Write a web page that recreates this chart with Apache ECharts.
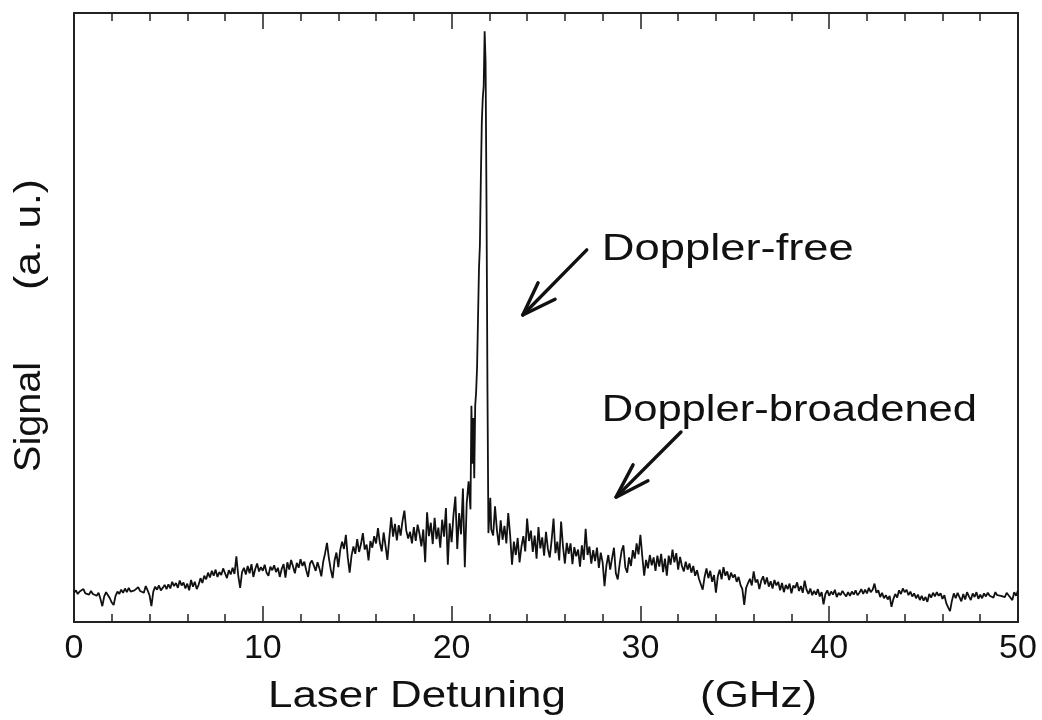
<!DOCTYPE html>
<html>
<head>
<meta charset="utf-8">
<script src="https://cdn.jsdelivr.net/npm/echarts@6/dist/echarts.min.js"></script>
<style>
  html, body { margin: 0; padding: 0; background: #fff; }
  #chart { width: 1042px; height: 720px; }
</style>
</head>
<body>
<div id="chart"></div>
<script>
// Laser detuning scan (GHz) vs. signal (arbitrary units)
const xTicks = [0, 10, 20, 30, 40, 50];

// Broad wing below the resonance: 0.0 .. 20.9 GHz sampled every 0.1 GHz
const leftStart = 0.0;
const leftStep = 0.1;
const signalLeft = [
  4.8,5.2,4.6,5.0,4.9,5.4,4.7,5.0,4.5,5.1,
  4.6,4.9,4.3,4.8,3.8,2.6,4.2,4.9,4.4,3.9,
  3.2,2.8,4.3,5.0,4.6,5.3,4.8,5.5,4.9,5.6,
  5.0,4.7,5.2,4.9,5.7,5.1,5.4,4.8,5.9,5.2,
  4.4,2.6,5.0,5.8,5.3,6.0,5.2,5.6,6.1,5.4,
  6.2,5.5,6.6,5.9,6.4,5.6,6.8,6.0,6.5,5.5,
  6.3,5.2,6.9,5.8,6.6,5.4,6.1,7.2,6.4,7.6,
  7.0,8.1,7.3,8.4,7.6,8.6,7.4,8.2,7.7,8.8,
  8.0,7.2,8.5,7.8,8.9,7.9,10.8,7.6,5.6,8.2,
  8.9,7.8,9.2,8.0,9.5,7.4,8.7,9.6,8.3,9.0,
  8.4,9.4,8.1,7.6,9.1,8.5,9.3,8.2,8.9,7.4,
  8.7,9.5,7.3,9.8,8.6,10.2,9.1,8.0,9.7,8.9,
  10.3,9.2,9.9,8.5,7.4,9.6,10.1,9.3,8.4,9.8,
  8.8,7.5,9.9,11.3,13.0,10.5,8.6,7.2,10.1,11.4,
  9.0,11.8,13.2,12.0,14.3,10.6,8.1,10.9,12.4,11.2,
  13.6,11.5,12.8,14.6,11.9,12.7,10.1,13.3,12.2,14.1,
  12.9,15.4,13.0,11.6,14.7,12.5,10.2,13.8,17.2,14.0,
  16.1,13.4,15.9,14.2,16.6,18.3,15.0,13.7,14.8,12.9,
  15.6,13.3,16.0,14.5,12.4,15.2,9.8,18.0,14.1,16.3,
  12.8,17.1,13.6,15.5,12.2,16.8,14.0,18.7,9.4,16.2,
  13.1,17.6,20.6,12.0,17.9,14.4,21.9,9.0,19.5,23.1
];

// Narrow Doppler-free line, sampled more finely
const peakDetuning = [
  21.0,21.05,21.1,21.15,21.2,21.25,21.3,21.35,21.4,21.45,21.5,21.55,
  21.6,21.65,21.7,21.75,21.8,21.85,21.9,21.95,22.0,22.05,22.1
];
const peakSignal = [
  18.5,35.5,26.0,33.5,23.6,35.5,37.8,41.9,50.0,58.0,62.0,73.0,
  82.0,86.0,88.0,97.0,92.0,68.0,38.0,14.6,17.5,20.4,15.2
];

// Broad wing above the resonance: 22.2 .. 50.0 GHz sampled every 0.1 GHz
const rightStart = 22.2;
const rightStep = 0.1;
const signalRight = [
  14.2,19.0,15.1,12.6,16.7,13.5,15.8,12.9,
  17.9,14.3,9.4,13.2,11.0,13.8,9.8,12.4,14.1,11.6,
  17.0,13.3,15.0,11.5,14.2,10.4,15.6,12.1,13.9,10.9,
  14.8,12.0,10.6,13.5,17.0,11.3,13.2,10.1,16.5,12.4,
  9.6,13.0,11.2,12.9,9.5,12.3,10.8,11.9,9.1,12.6,
  10.2,15.3,11.0,12.4,9.6,11.8,10.0,12.2,8.9,11.4,
  9.8,5.9,9.3,11.0,8.6,10.5,12.2,8.0,7.0,9.5,
  11.6,12.6,9.0,8.1,10.6,9.2,11.8,10.4,12.9,11.1,
  14.3,10.8,7.6,10.2,8.8,11.0,9.3,10.6,8.4,10.9,
  9.1,11.2,8.2,10.4,7.6,10.9,9.4,11.9,9.8,11.3,
  8.6,10.7,9.2,8.3,9.9,8.6,9.6,8.1,9.2,7.6,
  8.5,7.1,6.2,5.3,7.4,8.8,7.2,8.4,6.6,7.7,
  4.8,7.5,8.6,7.0,9.0,7.6,8.3,6.9,8.1,7.3,
  7.8,6.6,7.4,6.1,5.4,2.8,5.6,6.4,7.1,6.0,
  8.3,6.5,7.0,5.4,6.8,7.5,6.2,7.3,5.8,6.7,
  5.5,6.9,6.0,6.6,5.2,6.4,4.9,6.1,5.4,6.3,
  4.7,6.0,5.6,6.5,5.1,5.9,4.8,6.8,5.3,4.6,
  5.5,4.4,5.1,4.5,5.4,4.2,4.9,2.9,4.6,5.2,
  4.3,5.0,4.5,5.3,4.1,4.8,4.4,5.1,4.6,4.2,
  4.9,4.3,5.0,4.5,5.2,4.4,4.8,5.4,4.6,5.3,
  4.7,5.6,4.9,5.3,6.3,4.8,5.2,4.1,4.8,3.9,
  4.4,3.7,4.3,2.5,3.8,4.6,4.0,5.2,4.6,5.5,
  4.9,5.3,4.4,5.0,4.2,4.7,3.9,4.5,3.6,4.3,
  3.5,4.1,3.3,4.6,4.0,4.8,4.2,4.9,4.3,4.7,
  3.8,4.4,3.1,2.4,1.8,3.5,4.7,3.9,4.8,4.1,
  3.4,4.6,3.7,4.9,4.2,3.6,4.7,4.1,4.9,3.8,
  4.5,3.9,4.7,4.2,4.8,4.3,4.6,4.0,4.9,4.4,
  4.7,4.3,4.6,4.1,4.8,4.4,4.2,3.6,4.9,4.3,
  5.2
];

// Annotation arrows, in data coordinates: tail, tip, two head ends
const arrowFree = [[27.16, 61.1], [23.77, 50.4], [24.58, 55.7], [25.48, 53.0]];
const arrowBroad = [[32.15, 31.2], [28.71, 20.5], [29.61, 25.8], [30.40, 23.2]];
const labelFree = { text: 'Doppler-free', at: [27.95, 61.0], stretch: 1.26 };
const labelBroad = { text: 'Doppler-broadened', at: [27.95, 34.7], stretch: 1.21 };

const xTitle = 'Laser Detuning';
const xUnit = '(GHz)';
const yTitle = 'Signal';
const yUnit = '(a. u.)';

function round(v) { return Math.round(v * 1000) / 1000; }

const trace = [];
signalLeft.forEach((v, i) => trace.push([round(leftStart + i * leftStep), v]));
peakDetuning.forEach((x, i) => trace.push([x, peakSignal[i]]));
signalRight.forEach((v, i) => trace.push([round(rightStart + i * rightStep), v]));

const FONT = '"Liberation Sans", Arial, Helvetica, sans-serif';
const INK = '#111';

const chart = echarts.init(document.getElementById('chart'), null, { renderer: 'canvas' });

function xAxisDef(pos, withLabels) {
  return {
    type: 'value',
    position: pos,
    min: xTicks[0],
    max: xTicks[xTicks.length - 1],
    interval: 10,
    axisLine: { show: true, onZero: false, lineStyle: { color: '#222', width: 2 } },
    axisTick: { show: true, inside: true, length: 16, lineStyle: { color: '#222', width: 1.5 } },
    minorTick: { show: true, splitNumber: 5, length: 8, lineStyle: { color: '#222', width: 1.5 } },
    splitLine: { show: false },
    minorSplitLine: { show: false },
    axisLabel: {
      show: withLabels,
      fontFamily: FONT,
      fontSize: 34,
      color: INK,
      margin: 10
    }
  };
}

function yAxisDef(pos) {
  return {
    type: 'value',
    position: pos,
    min: 0,
    max: 100,
    axisLine: { show: true, onZero: false, lineStyle: { color: '#222', width: 2 } },
    axisTick: { show: false },
    axisLabel: { show: false },
    splitLine: { show: false }
  };
}

chart.setOption({
  animation: false,
  backgroundColor: '#fff',
  grid: { left: 74, right: 24, top: 13, bottom: 98 },
  xAxis: [xAxisDef('bottom', true), xAxisDef('top', false)],
  yAxis: [yAxisDef('left'), yAxisDef('right')],
  series: [{
    type: 'line',
    xAxisIndex: 0,
    yAxisIndex: 0,
    data: trace,
    showSymbol: false,
    lineStyle: { color: INK, width: 1.8 },
    z: 3
  }]
});

function px(pt) { return chart.convertToPixel({ xAxisIndex: 0, yAxisIndex: 0 }, pt); }

function arrowGraphics(a) {
  const tail = px(a[0]), tip = px(a[1]), w1 = px(a[2]), w2 = px(a[3]);
  const style = { stroke: INK, lineWidth: 3.4, lineCap: 'round', lineJoin: 'round', fill: null };
  return [
    { type: 'polyline', shape: { points: [tail, tip] }, style },
    { type: 'polyline', shape: { points: [w1, tip, w2] }, style }
  ];
}

// Wide-set lettering: the glyphs are stretched along the writing direction
function label(text, x, y, stretch, rotation) {
  return {
    type: 'text', x, y, rotation: rotation || 0, scaleX: stretch, scaleY: 1,
    style: { text, font: '36px ' + FONT, fill: INK, textAlign: 'left', textVerticalAlign: 'middle' }
  };
}

function annot(lbl) {
  const p = px(lbl.at);
  return label(lbl.text, p[0], p[1], lbl.stretch, 0);
}

chart.setOption({
  graphic: [
    ...arrowGraphics(arrowFree),
    ...arrowGraphics(arrowBroad),
    annot(labelFree),
    annot(labelBroad),
    label(xTitle, 268, 697, 1.22, 0),
    label(xUnit, 700, 697, 1.22, 0),
    label(yTitle, 30, 472, 1.1, Math.PI / 2),
    label(yUnit, 30, 290, 1.18, Math.PI / 2)
  ]
});
</script>
</body>
</html>
